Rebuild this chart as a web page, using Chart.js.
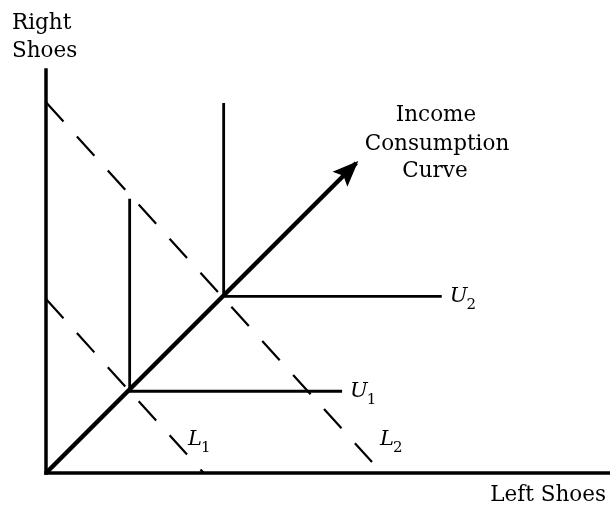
<!DOCTYPE html>
<html>
<head>
<meta charset="utf-8">
<script src="https://cdn.jsdelivr.net/npm/chart.js@4"></script>
<style>
html,body{margin:0;padding:0;background:#fff;}
#wrap{width:610px;height:508px;position:relative;}
</style>
</head>
<body>
<div id="wrap"><canvas id="c" width="610" height="508"></canvas></div>
<script>
// Quantities (units of shoes)
const X_MAX = 30;
const Y_MAX = 21.45;
const xAxisLine = [{x:0,y:0},{x:X_MAX,y:0}];
const yAxisLine = [{x:0,y:0},{x:0,y:Y_MAX}];
// Income consumption curve (ray through the kinks), ends at arrow tip
const iccPoints = [{x:0,y:0},{x:16.5,y:16.5}];
// L-shaped indifference curves (perfect complements)
const u1Points = [{x:4.45,y:14.6},{x:4.45,y:4.35},{x:15.75,y:4.35}];
const u2Points = [{x:9.45,y:19.7},{x:9.45,y:9.4},{x:21.05,y:9.4}];
// Budget lines
const l1Points = [{x:0,y:9.26},{x:8.39,y:0}];
const l2Points = [{x:0,y:19.73},{x:17.34,y:0.585}];
// Text
const yTitle = ["Right","Shoes"];
const xTitle = "Left Shoes";
const iccLabel = ["Income","Consumption","Curve"];

const SERIF = '"DejaVu Serif", "Liberation Serif", serif';

function subLabel(ctx, base, sub, x, y){
  ctx.font = 'italic 21px ' + SERIF;
  ctx.textAlign = 'left';
  ctx.textBaseline = 'alphabetic';
  ctx.fillText(base, x, y);
  const w = ctx.measureText(base).width;
  ctx.font = '15px ' + SERIF;
  ctx.fillText(sub, x + w - 1, y + 7);
}

const annot = {
  id:'annot',
  afterDatasetsDraw(chart){
    const ctx = chart.ctx;
    const xs = chart.scales.x, ys = chart.scales.y;
    ctx.save();
    ctx.fillStyle = '#000';
    // arrow head on ICC
    const a = iccPoints[iccPoints.length-2], b = iccPoints[iccPoints.length-1];
    const ax = xs.getPixelForValue(a.x), ay = ys.getPixelForValue(a.y);
    const bx = xs.getPixelForValue(b.x), by = ys.getPixelForValue(b.y);
    const ang = Math.atan2(by-ay, bx-ax);
    const tipX = bx + Math.cos(ang)*3, tipY = by + Math.sin(ang)*3;
    const L = 26, H = 10.5;
    ctx.beginPath();
    ctx.moveTo(tipX, tipY);
    ctx.lineTo(tipX - L*Math.cos(ang) + H*Math.sin(ang), tipY - L*Math.sin(ang) - H*Math.cos(ang));
    ctx.lineTo(tipX - (L-5)*Math.cos(ang), tipY - (L-5)*Math.sin(ang));
    ctx.lineTo(tipX - L*Math.cos(ang) - H*Math.sin(ang), tipY - L*Math.sin(ang) + H*Math.cos(ang));
    ctx.closePath();
    ctx.fill();

    // axis titles
    ctx.font = '21.5px ' + SERIF;
    ctx.textBaseline = 'alphabetic';
    ctx.textAlign = 'left';
    ctx.fillText(yTitle[0], 12, 29);
    ctx.fillText(yTitle[1], 12, 57);
    ctx.textAlign = 'right';
    ctx.fillText(xTitle, 606, 501);

    // ICC label
    ctx.textAlign = 'center';
    ctx.fillText(iccLabel[0], 436, 121);
    ctx.fillText(iccLabel[1], 437, 150);
    ctx.fillText(iccLabel[2], 435, 177);

    // curve labels
    const u1e = u1Points[u1Points.length-1], u2e = u2Points[u2Points.length-1];
    subLabel(ctx, 'U', '1', xs.getPixelForValue(u1e.x)+8, ys.getPixelForValue(u1e.y)+6);
    subLabel(ctx, 'U', '2', xs.getPixelForValue(u2e.x)+8, ys.getPixelForValue(u2e.y)+6);
    subLabel(ctx, 'L', '1', 188, 445);
    subLabel(ctx, 'L', '2', 380, 445);
    ctx.restore();
  }
};

const common = {showLine:true, pointRadius:0, fill:false, borderColor:'#000', tension:0, clip:false};

new Chart(document.getElementById('c'), {
  type:'scatter',
  data:{datasets:[
    Object.assign({}, common, {data:xAxisLine, borderWidth:3.5, borderCapStyle:'square'}),
    Object.assign({}, common, {data:yAxisLine, borderWidth:3.5, borderCapStyle:'square'}),
    Object.assign({}, common, {data:l1Points, borderWidth:2.2, borderDash:[26,20]}),
    Object.assign({}, common, {data:l2Points, borderWidth:2.2, borderDash:[26,20]}),
    Object.assign({}, common, {data:u1Points, borderWidth:2.8}),
    Object.assign({}, common, {data:u2Points, borderWidth:2.8}),
    Object.assign({}, common, {data:iccPoints, borderWidth:4.5})
  ]},
  options:{
    responsive:false,
    devicePixelRatio:1,
    animation:false,
    layout:{padding:{left:46,right:0,top:70,bottom:35}},
    plugins:{legend:{display:false},tooltip:{enabled:false}},
    scales:{
      x:{type:'linear',min:0,max:X_MAX,display:false},
      y:{type:'linear',min:0,max:Y_MAX,display:false}
    }
  },
  plugins:[annot]
});
</script>
</body>
</html>
